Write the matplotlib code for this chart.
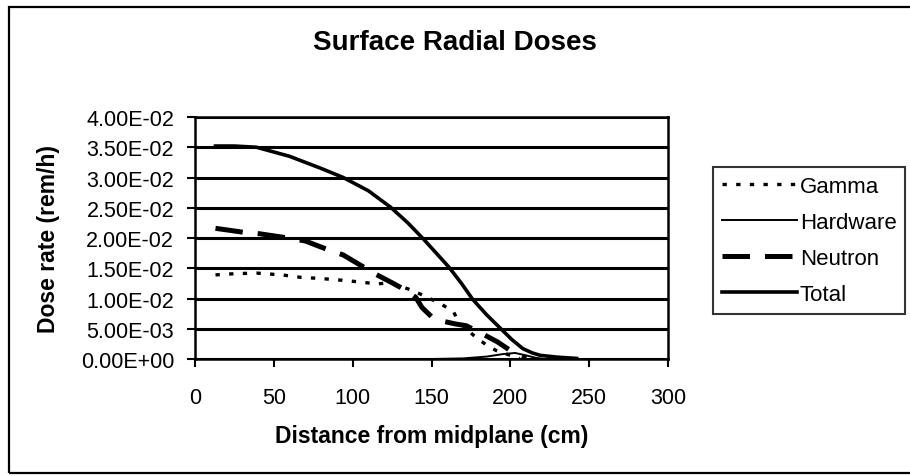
import matplotlib
matplotlib.use("Agg")
import matplotlib.pyplot as plt
from matplotlib.patches import Rectangle

# values (cm, rem/h)
total_x = [13, 25, 39, 60, 80, 94, 110, 124, 135, 145, 153, 161, 169, 176,
           185, 194, 201, 208, 214, 219, 230, 242]
total_y = [0.0352, 0.0352, 0.0350, 0.0335, 0.0315, 0.0300, 0.0278, 0.0251,
           0.0225, 0.0198, 0.0175, 0.0152, 0.0125, 0.0099, 0.0073, 0.0050,
           0.0032, 0.0017, 0.0010, 0.0006, 0.0003, 0.0001]

gamma_x = [13, 25, 39, 55, 67, 80, 94, 106, 115, 124, 135, 145, 156, 164,
           167, 178, 185, 191, 200, 206]
gamma_y = [0.0139, 0.0141, 0.0142, 0.0139, 0.0135, 0.0133, 0.0130, 0.0127,
           0.0124, 0.0126, 0.0116, 0.0105, 0.0091, 0.0078, 0.0062, 0.0036,
           0.0023, 0.0014, 0.0006, 0.0001]

neutron_x = [13, 32, 41, 59, 70, 87, 94, 114, 125, 134, 140, 144, 150, 158,
             165, 172, 182, 192, 200, 205, 210]
neutron_y = [0.0216, 0.0209, 0.0207, 0.0200, 0.0195, 0.0178, 0.0172, 0.0141,
             0.0126, 0.0113, 0.0102, 0.0085, 0.0070, 0.0062, 0.0058, 0.0055,
             0.0042, 0.0028, 0.0014, 0.0007, 0.0001]

hardware_x = [13, 50, 100, 150, 170, 185, 195, 203, 210, 216, 222]
hardware_y = [0.0, 0.0, 0.0, 0.0, 0.0001, 0.0004, 0.0008, 0.0010, 0.0006,
              0.0002, 0.0]

x_ticks = [0, 50, 100, 150, 200, 250, 300]
y_ticks = [0.0, 0.005, 0.010, 0.015, 0.020, 0.025, 0.030, 0.035, 0.040]
y_tick_labels = ['0.00E+00', '5.00E-03', '1.00E-02', '1.50E-02', '2.00E-02',
                 '2.50E-02', '3.00E-02', '3.50E-02', '4.00E-02']

plt.rcParams['font.family'] = ['Liberation Sans', 'DejaVu Sans']

W, H = 910, 477
fig = plt.figure(figsize=(W/100, H/100), dpi=100)
ax = fig.add_axes([195/W, 1-360/H, (668-195)/W, (360-118)/H])

# outer chart border (right edge runs off the picture)
fig.patches.append(Rectangle((9/W, 3/H), 1.2, 1-8/H-3/H, transform=fig.transFigure,
                             fill=False, edgecolor='black', linewidth=1.6))

for y in y_ticks:
    ax.axhline(y, color='black', linewidth=2.2, zorder=1)

l_gamma, = ax.plot(gamma_x, gamma_y, color='black', linewidth=2.4,
                   dashes=(1.3, 2.8), zorder=3)
l_hw, = ax.plot(hardware_x, hardware_y, color='black', linewidth=1.4, zorder=3)
l_neu, = ax.plot(neutron_x, neutron_y, color='black', linewidth=3.6,
                 dashes=(5.5, 3.0), zorder=3)
l_tot, = ax.plot(total_x, total_y, color='black', linewidth=2.6, zorder=4)

ax.set_xlim(0, 300)
ax.set_ylim(0, 0.04)
ax.set_xticks(x_ticks)
ax.set_yticks(y_ticks)
ax.set_yticklabels(y_tick_labels)
ax.tick_params(axis='both', labelsize=15.5, width=1.5, color='black')
ax.tick_params(axis='x', length=6, pad=14)
ax.tick_params(axis='y', length=6, pad=9)
for s in ax.spines.values():
    s.set_linewidth(1.8)

ax.set_xlabel('Distance from midplane (cm)', fontsize=16.5, fontweight='bold')
ax.xaxis.set_label_coords(0.5, -0.27)
ax.set_ylabel('Dose rate (rem/h)', fontsize=16.5, fontweight='bold')
ax.yaxis.set_label_coords(-0.285, 0.5)

fig.text(0.5, 1-43/H, 'Surface Radial Doses', ha='center', va='center',
         fontsize=20, fontweight='bold')

leg = fig.legend([l_gamma, l_hw, l_neu, l_tot], ['Gamma', 'Hardware', 'Neutron', 'Total'],
                 loc='upper left', bbox_to_anchor=(713/W, 1-168/H),
                 fontsize=16, frameon=True, fancybox=False, handlelength=3.4,
                 handletextpad=0.1, labelspacing=0.68, borderpad=0.4,
                 borderaxespad=0)
leg.get_frame().set_edgecolor('black')
leg.get_frame().set_linewidth(1.5)

fig.savefig('out.png', dpi=100)
